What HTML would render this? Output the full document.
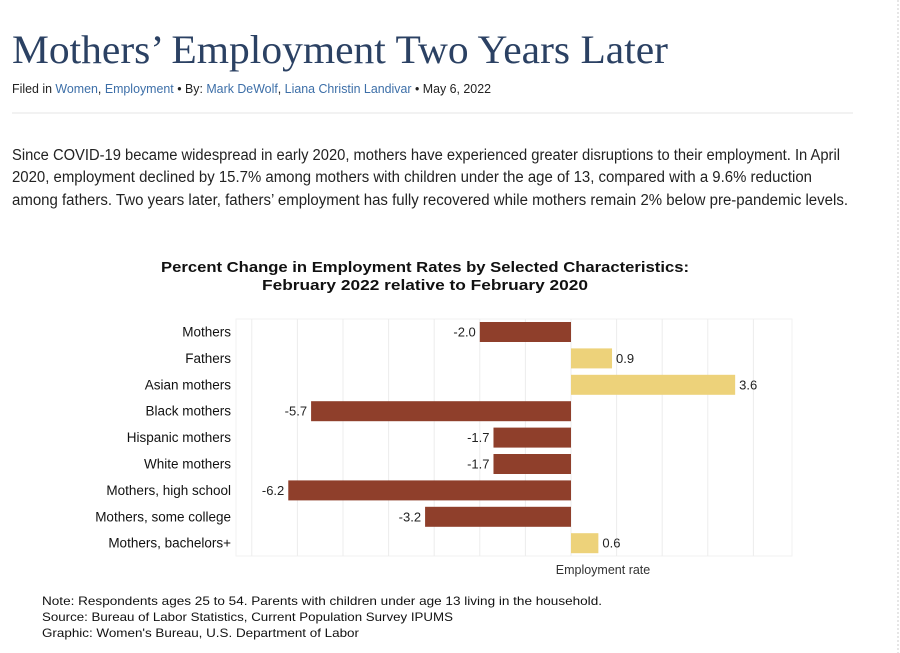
<!DOCTYPE html>
<html><head><meta charset="utf-8"><style>
body{margin:0;background:#fff;}
svg{display:block;font-family:"Liberation Sans",sans-serif;}
</style></head><body>
<svg width="900" height="653" viewBox="0 0 900 653">
<line x1="898" y1="0" x2="898" y2="653" stroke="#ccc" stroke-dasharray="2,2"/>
<text x="12" y="63" font-family="Liberation Serif,serif" font-size="40" fill="#2b4163" textLength="656" lengthAdjust="spacingAndGlyphs">Mothers’ Employment Two Years Later</text>
<text x="12" y="93" font-size="12.5" fill="#222" textLength="479" lengthAdjust="spacingAndGlyphs">Filed in <tspan fill="#3d6fa8">Women</tspan>, <tspan fill="#3d6fa8">Employment</tspan> • By: <tspan fill="#3d6fa8">Mark DeWolf</tspan>, <tspan fill="#3d6fa8">Liana Christin Landivar</tspan> • May 6, 2022</text>
<line x1="12" y1="113" x2="853" y2="113" stroke="#e6e6e6"/>
<g font-size="15.5" fill="#222">
<text x="12" y="160" textLength="828" lengthAdjust="spacingAndGlyphs">Since COVID-19 became widespread in early 2020, mothers have experienced greater disruptions to their employment. In April</text>
<text x="12" y="182" textLength="800" lengthAdjust="spacingAndGlyphs">2020, employment declined by 15.7% among mothers with children under the age of 13, compared with a 9.6% reduction</text>
<text x="12" y="205" textLength="836" lengthAdjust="spacingAndGlyphs">among fathers. Two years later, fathers’ employment has fully recovered while mothers remain 2% below pre-pandemic levels.</text>
</g>
<g font-weight="bold" font-size="15" fill="#111" text-anchor="middle">
<text x="425" y="272" textLength="528" lengthAdjust="spacingAndGlyphs">Percent Change in Employment Rates by Selected Characteristics:</text>
<text x="425" y="290" textLength="326" lengthAdjust="spacingAndGlyphs">February 2022 relative to February 2020</text>
</g>
<g id="chart"></g>
<text x="603" y="574" font-size="12.5" fill="#333" text-anchor="middle">Employment rate</text>
<g font-size="12" fill="#111">
<text x="42" y="605" textLength="560" lengthAdjust="spacingAndGlyphs">Note: Respondents ages 25 to 54. Parents with children under age 13 living in the household.</text>
<text x="42" y="621" textLength="411" lengthAdjust="spacingAndGlyphs">Source: Bureau of Labor Statistics, Current Population Survey IPUMS</text>
<text x="42" y="637" textLength="317" lengthAdjust="spacingAndGlyphs">Graphic: Women's Bureau, U.S. Department of Labor</text>
</g>
</svg>
<script>
const categories=["Mothers","Fathers","Asian mothers","Black mothers","Hispanic mothers","White mothers","Mothers, high school","Mothers, some college","Mothers, bachelors+"];
const values=[-2.0,0.9,3.6,-5.7,-1.7,-1.7,-6.2,-3.2,0.6];
const valueLabels=["-2.0","0.9","3.6","-5.7","-1.7","-1.7","-6.2","-3.2","0.6"];
const gridTicks=[-7,-6,-5,-4,-3,-2,-1,0,1,2,3,4];
const NS="http://www.w3.org/2000/svg";
const g=document.getElementById('chart');
const x=v=>571+v*45.6;
const rowY=i=>332+i*26.4;
function mk(t,a){const e=document.createElementNS(NS,t);for(const k in a)e.setAttribute(k,a[k]);g.appendChild(e);return e;}
const bg=mk('rect',{x:236,y:319,width:556,height:237,fill:'#fff',stroke:'#f2f2f2'});


gridTicks.forEach(t=>{
  const l=mk('line',{x1:x(t),x2:x(t),y1:319,y2:556,stroke:'#ececec'});
  
  
});
categories.forEach((c,i)=>{
  const v=values[i],cy=rowY(i);
  const lab=mk('text',{x:231,y:cy+4.5,'font-size':13.5,fill:'#111','text-anchor':'end'});
  lab.textContent=c;
  
  
  const x0=Math.min(x(0),x(v)),w=Math.abs(x(v)-x(0));
  const r=mk('rect',{x:x0,y:cy-10,width:w,height:20,fill:v<0?'#8f3f2b':'#edd27a'});
  
  
  const t=mk('text',{x:v<0?x(v)-4:x(v)+4,y:cy+4.5,'font-size':13,fill:'#222','text-anchor':v<0?'end':'start'});
  t.textContent=valueLabels[i];
  
  
});
</script>
</body></html>
